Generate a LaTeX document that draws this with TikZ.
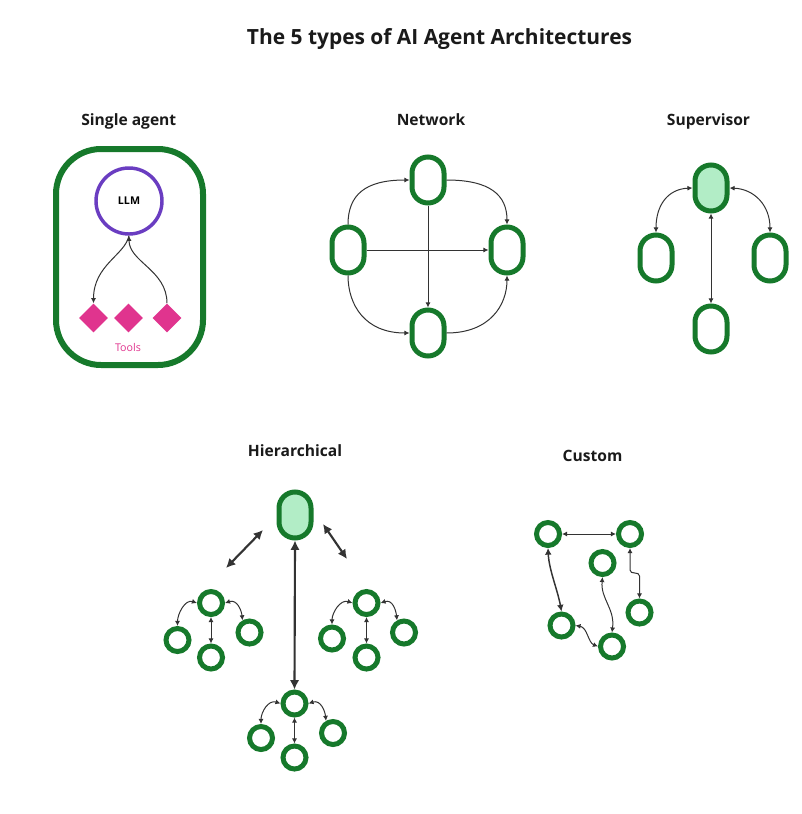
\documentclass[tikz,border=0pt]{standalone}
\usepackage{fontspec}
\setmainfont{Open Sans}
\usetikzlibrary{arrows.meta,shapes.geometric}

\definecolor{agentgreen}{HTML}{16792B}
\definecolor{leadfill}{HTML}{B2EDC6}
\definecolor{llmpurple}{HTML}{6A3DC1}
\definecolor{toolpink}{HTML}{E0348E}
\definecolor{linkgray}{HTML}{333333}
\definecolor{inkblack}{HTML}{1A1A1A}

\tikzset{
  heading/.style={anchor=base,text=inkblack,font=\bfseries\fontsize{15.7}{19}\selectfont,inner sep=0pt},
  sectitle/.style={anchor=base,text=inkblack,font=\bfseries\fontsize{11.7}{14}\selectfont,inner sep=0pt},
  oval/.style={draw=agentgreen,line width=3.75pt,rounded corners=12pt,minimum width=24pt,minimum height=34.5pt,inner sep=0pt,fill=white},
  lead/.style={oval,fill=leadfill},
  agent/.style={circle,draw=agentgreen,line width=3.75pt,minimum size=17.25pt,inner sep=0pt,fill=white},
  llmnode/.style={circle,draw=llmpurple,line width=2.6pt,minimum size=49.5pt,inner sep=0pt,font=\bfseries\fontsize{8}{9}\selectfont},
  toolnode/.style={diamond,aspect=1,fill=toolpink,minimum size=21.75pt,inner sep=0pt},
  frame/.style={draw=agentgreen,line width=4.5pt,rounded corners=33.75pt,minimum width=110.25pt,minimum height=162pt,inner sep=0pt},
  link/.style={draw=linkgray,line width=0.75pt,>={Latex[length=3.8pt,width=3.8pt]}},
  midlink/.style={draw=linkgray,line width=1.1pt,>={Latex[length=5pt,width=5pt]}},
  boldlink/.style={draw=linkgray,line width=1.6pt,>={Latex[length=7pt,width=7pt]}},
}

\begin{document}
\begin{tikzpicture}[x=0.75pt,y=-0.75pt]
\useasboundingbox (0,0) rectangle (802,814);

% title
\node[heading] (title) at (439.5,44) {The 5 types of AI Agent Architectures};

% ---- single agent ----
\node[sectitle] (tsingle) at (128.8,125) {Single agent};
\node[frame] (box) at (129.5,257) {};
\node[llmnode] (llm) at (129,201) {LLM};
\node[toolnode] (tool1) at (93.5,318) {};
\node[toolnode] (tool2) at (128.5,318) {};
\node[toolnode] (tool3) at (167,318) {};
\node[anchor=base,text=toolpink,font=\fontsize{8}{9}\selectfont,inner sep=0pt] (tools) at (128,351.5) {Tools};
\draw[link,->] (llm.south) .. controls (125,255) and (93.5,265) .. (tool1.north);
\draw[link,->] (tool3.north) .. controls (167,270) and (129,262) .. (llm.south);

% ---- network ----
\node[sectitle] (tnet) at (431,125) {Network};
\node[oval] (ntop) at (428,180) {};
\node[oval] (nleft) at (348,250) {};
\node[oval] (nright) at (507,250) {};
\node[oval] (nbot) at (428,333) {};
\draw[link,->] (nleft.north) .. controls (348,195) and (365,180) .. (ntop.west);
\draw[link,->] (ntop.east) .. controls (490,180) and (507,195) .. (nright.north);
\draw[link,->] (nleft.south) .. controls (348,305) and (365,333) .. (nbot.west);
\draw[link,->] (nbot.east) .. controls (490,333) and (507,305) .. (nright.south);
\draw[link,->] (nleft.east) -- (nright.west);
\draw[link,->] (ntop.south) -- (nbot.north);

% ---- supervisor ----
\node[sectitle] (tsup) at (708.5,125) {Supervisor};
\node[lead] (stop) at (711,188) {};
\node[oval] (sleft) at (656,258) {};
\node[oval] (sright) at (770,258) {};
\node[oval] (sbot) at (711,329) {};
\draw[link,<->] (stop.west) .. controls (668,189) and (656,205) .. (sleft.north);
\draw[link,<->] (stop.east) .. controls (754,189) and (770,205) .. (sright.north);
\draw[link,<->] (stop.south) -- (sbot.north);

% ---- hierarchical ----
\node[sectitle] (thier) at (295,456) {Hierarchical};
\node[lead] (htop) at (295,515) {};
\coordinate (hla) at (263,530);
\coordinate (hlb) at (226,568);
\coordinate (hra) at (323,524);
\coordinate (hrb) at (347,559);
\draw[boldlink,<->] (hla) -- (hlb);
\draw[boldlink,<->] (hra) -- (hrb);
\foreach \p/\cx/\cy/\lx/\ly/\bx/\by/\rx/\ry in {
    hL/211/603/177.5/640/211/657.5/249.5/632.5,
    hR/366.5/603/332/638.5/366.5/657.5/404/632.5,
    hB/294.5/703.5/261/738/294.5/757.5/333/733} {
  \node[agent] (\p-c) at (\cx,\cy) {};
  \node[agent] (\p-l) at (\lx,\ly) {};
  \node[agent] (\p-b) at (\bx,\by) {};
  \node[agent] (\p-r) at (\rx,\ry) {};
  \draw[link,<->] (\p-c.west) .. controls +(-12,-4) and +(0,-12) .. (\p-l.north);
  \draw[link,<->] (\p-c.east) .. controls +(12,-4) and +(-1,-10) .. (\p-r.120);
  \draw[link,<->] (\p-c.south) -- (\p-b.north);
}
\draw[boldlink,<->] (htop.south) -- (hB-c.north);

% ---- custom ----
\node[sectitle] (tcustom) at (592.5,461.5) {Custom};
\node[agent] (ca) at (548,534) {};
\node[agent] (cb) at (630,534) {};
\node[agent] (cc) at (602.5,563) {};
\node[agent] (cd) at (639.5,612.5) {};
\node[agent] (ce) at (561.5,625.5) {};
\node[agent] (cf) at (612,646.5) {};
\draw[link,<->] (ca.east) -- (cb.west);
\draw[midlink,<->] (ca.south) .. controls +(1,22) and +(-4,-22) .. (ce.north);
\draw[link,<->] (ce.east) .. controls +(12,2) and +(-10,-4) .. (cf.west);
\draw[link,<->] (cc.south) .. controls +(-2,22) and +(3,-24) .. (cf.north);
\draw[link,<->] (cb.south) -- ++(0,22) .. controls +(0,5) and +(0,-5) .. ++(9.5,6) -- (cd.north);
\end{tikzpicture}
\end{document}
